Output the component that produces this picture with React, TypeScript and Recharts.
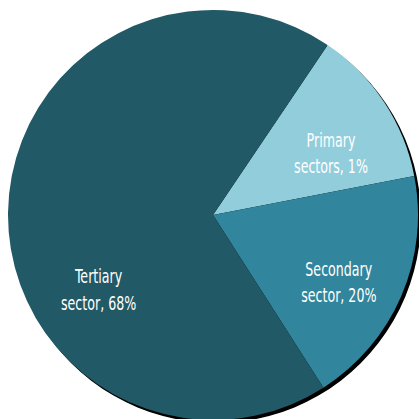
import React from 'react';
import { PieChart, Pie, Cell } from 'recharts';

// Economy by sector, share of total
const sectors = ['Primary sectors', 'Secondary sector', 'Tertiary sector'];
const shares = [12.5, 19, 68.5];
const shareLabels = ['1%', '20%', '68%'];

const COLORS = ['#92CDDC', '#31859C', '#215967'];

const data = sectors.map((name, i) => ({ name, value: shares[i], label: shareLabels[i] }));
const shadowData = [{ name: 'shadow', value: 1 }];

// tweak label placement per slice (angle shift in degrees, radius ratio)
const labelShift = [
  { da: -5, rr: 0.655 },
  { da: -4, rr: 0.69 },
  { da: 33, rr: 0.66 }
];

const RAD = Math.PI / 180;

const renderLabel = (props: any) => {
  const { cx, cy, midAngle, outerRadius, index, payload } = props;
  const s = labelShift[index];
  const a = (midAngle + s.da) * RAD;
  const r = outerRadius * s.rr;
  const x = cx + r * Math.cos(a);
  const y = cy - r * Math.sin(a);
  const words = payload.name.split(' ');
  return (
    <text
      x={x}
      y={y}
      fill='#ffffff'
      textAnchor='middle'
      fontFamily='"DejaVu Sans Condensed", "DejaVu Sans", sans-serif'
      fontSize={19}
      style={{ fontStretch: 'condensed' }}
      transform={`translate(${x} 0) scale(0.74 1) translate(${-x} 0)`}
    >
      <tspan x={x} dy='-0.2em'>{words[0]}</tspan>
      <tspan x={x} dy='1.37em'>{`${words[1]}, ${payload.label}`}</tspan>
    </text>
  );
};

export default function App() {
  return (
    <div style={{ position: 'absolute', left: 0, top: 0, width: 419, height: 419 }}>
      <PieChart width={419} height={419} margin={{ top: 0, right: 0, bottom: 0, left: 0 }}>
        <Pie
          data={shadowData}
          dataKey='value'
          cx={216}
          cy={218}
          outerRadius={205}
          stroke='none'
          fill='#000000'
          isAnimationActive={false}
        />
        <Pie
          data={data}
          dataKey='value'
          cx={213}
          cy={215}
          outerRadius={205}
          startAngle={56}
          endAngle={-304}
          stroke='none'
          labelLine={false}
          label={renderLabel}
          isAnimationActive={false}
        >
          {data.map((d, i) => (
            <Cell key={`cell-${i}`} fill={COLORS[i]} />
          ))}
        </Pie>
      </PieChart>
    </div>
  );
}
